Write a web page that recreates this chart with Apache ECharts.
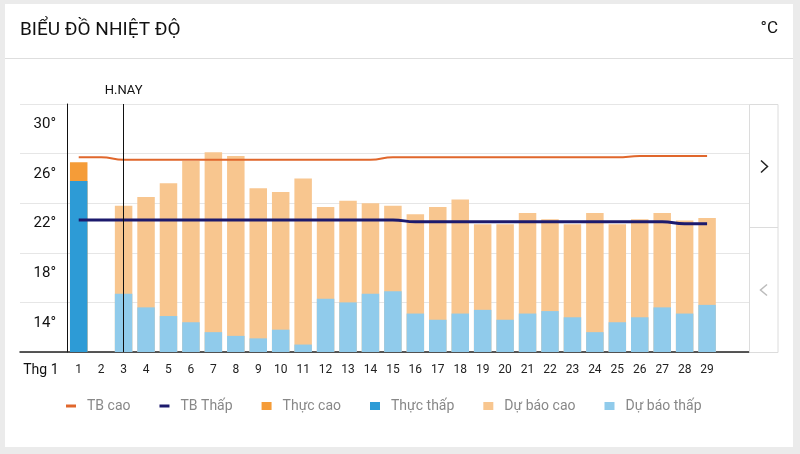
<!DOCTYPE html>
<html>
<head>
<meta charset="utf-8">
<script src="https://cdn.jsdelivr.net/npm/echarts@6/dist/echarts.min.js"></script>
<style>
  html, body { margin: 0; padding: 0; background: #ebebeb; }
  #card { position: absolute; left: 5px; top: 4px; width: 788px; height: 443px; background: #fff; }
  #chart { position: absolute; left: 0; top: 0; width: 800px; height: 454px; }
</style>
</head>
<body>
<div id="card"></div>
<div id="chart"></div>
<script>
// ---- data ----
const days = ['1','2','3','4','5','6','7','8','9','10','11','12','13','14','15','16','17','18','19','20','21','22','23','24','25','26','27','28','29'];
const tbCao = [25.7,25.7,25.5,25.5,25.5,25.5,25.5,25.5,25.5,25.5,25.5,25.5,25.5,25.5,25.7,25.7,25.7,25.7,25.7,25.7,25.7,25.7,25.7,25.7,25.7,25.8,25.8,25.8,25.8];
const tbThap = [20.65,20.65,20.65,20.65,20.65,20.65,20.65,20.65,20.65,20.65,20.65,20.65,20.65,20.65,20.65,20.5,20.5,20.5,20.5,20.5,20.5,20.5,20.5,20.5,20.5,20.5,20.5,20.35,20.35];
const thucCao = [25.3,'-','-','-','-','-','-','-','-','-','-','-','-','-','-','-','-','-','-','-','-','-','-','-','-','-','-','-','-'];
const thucThap = [23.8,'-','-','-','-','-','-','-','-','-','-','-','-','-','-','-','-','-','-','-','-','-','-','-','-','-','-','-','-'];
const duBaoCao = ['-','-',21.8,22.5,23.6,25.4,26.1,25.8,23.2,22.9,24.0,21.7,22.2,22.0,21.8,21.1,21.7,22.3,20.3,20.3,21.2,20.7,20.3,21.2,20.3,20.7,21.2,20.6,20.8];
const duBaoThap = ['-','-',14.7,13.6,12.9,12.4,11.6,11.3,11.1,11.8,10.6,14.3,14.0,14.7,14.9,13.1,12.6,13.1,13.4,12.6,13.1,13.3,12.8,11.6,12.4,12.8,13.6,13.1,13.8];
const todayLabel = '3';
const yMin = 10, yMax = 30, yStep = 4;

const FONT = 'Roboto, "Noto Sans", sans-serif';
const chart = echarts.init(document.getElementById('chart'), null, { renderer: 'canvas' });
const lineIcon = 'path://M0,0 L10,0 L10,3 L0,3 Z';

const barCommon = { type: 'bar', xAxisIndex: 0, yAxisIndex: 0, barWidth: 17.5, barGap: '-100%', z: 2 };

chart.setOption({
  animation: false,
  textStyle: { fontFamily: FONT },
  title: [
    { text: 'BIỂU ĐỒ NHIỆT ĐỘ', left: 20, top: 21, padding: 0, textStyle: { fontFamily: FONT, fontSize: 19, fontWeight: 'normal', color: '#111' } },
    { text: '°C', right: 22, top: 20, padding: 0, textStyle: { fontFamily: FONT, fontSize: 17, fontWeight: 'normal', color: '#111' } }
  ],
  legend: {
    left: 66, top: 399, padding: 0,
    itemWidth: 10, itemHeight: 8, itemGap: 29,
    textStyle: { color: '#888', fontSize: 14, fontFamily: FONT, padding: [0, 0, 0, 6] },
    data: [
      { name: 'TB cao', icon: lineIcon },
      { name: 'TB Thấp', icon: lineIcon },
      { name: 'Thực cao', icon: 'rect' },
      { name: 'Thực thấp', icon: 'rect' },
      { name: 'Dự báo cao', icon: 'rect' },
      { name: 'Dự báo thấp', icon: 'rect' }
    ]
  },
  grid: [
    { left: 67.5, right: 81.7, top: 104, bottom: 102 },
    { left: 20, right: 50, top: 104, bottom: 102 }
  ],
  xAxis: [
    {
      type: 'category', gridIndex: 0, data: days,
      axisLine: { show: false }, axisTick: { show: false },
      axisLabel: { interval: 0, fontSize: 12, color: '#222', margin: 12, fontFamily: FONT },
      name: 'Thg 1', nameLocation: 'start', nameGap: 9,
      nameTextStyle: { fontSize: 14, color: '#111', align: 'right', verticalAlign: 'top', padding: [11, 0, 0, 0], fontFamily: FONT }
    },
    {
      type: 'value', gridIndex: 1, min: 0, max: 1,
      axisLine: { show: true, lineStyle: { color: '#222', width: 1.5 } },
      axisTick: { show: false }, axisLabel: { show: false }, splitLine: { show: false }
    }
  ],
  yAxis: [
    {
      type: 'value', gridIndex: 0, min: yMin, max: yMax, interval: yStep,
      axisLine: { show: true, lineStyle: { color: '#111', width: 1 } },
      axisTick: { show: false }, axisLabel: { show: false }, splitLine: { show: false }
    },
    {
      type: 'value', gridIndex: 1, min: yMin, max: yMax, interval: yStep,
      axisLine: { show: false }, axisTick: { show: false },
      splitLine: { show: true, lineStyle: { color: '#e6e6e6', width: 1 } },
      axisLabel: {
        inside: true, margin: 36, align: 'right', verticalAlign: 'top', padding: [13, 0, 0, 0],
        fontSize: 15, color: '#111', fontFamily: FONT,
        formatter: v => (v === yMin ? '' : v + '°')
      }
    }
  ],
  series: [
    { name: 'TB cao', type: 'line', xAxisIndex: 0, yAxisIndex: 0, data: tbCao, color: '#e0672c',
      showSymbol: false, smooth: 0.5, smoothMonotone: 'x', lineStyle: { width: 2 }, z: 4 },
    { name: 'TB Thấp', type: 'line', xAxisIndex: 0, yAxisIndex: 0, data: tbThap, color: '#1c1a6d',
      showSymbol: false, smooth: 0.5, smoothMonotone: 'x', lineStyle: { width: 3 }, z: 4 },
    Object.assign({ name: 'Thực cao', data: thucCao, color: '#f59c38' }, barCommon),
    Object.assign({ name: 'Thực thấp', data: thucThap, color: '#2d9bd6' }, barCommon),
    Object.assign({ name: 'Dự báo cao', data: duBaoCao, color: '#f8c68f',
      markLine: {
        silent: true, symbol: 'none', z: 5,
        lineStyle: { color: '#111', width: 1, type: 'solid' },
        label: { show: true, position: 'end', formatter: 'H.NAY', color: '#111', fontSize: 13, distance: 7, fontFamily: FONT },
        data: [{ xAxis: todayLabel }]
      }
    }, barCommon),
    Object.assign({ name: 'Dự báo thấp', data: duBaoThap, color: '#90cbeb' }, barCommon)
  ],
  graphic: [
    { type: 'line', shape: { x1: 5, y1: 58.5, x2: 793, y2: 58.5 }, style: { stroke: '#dedede', lineWidth: 1 }, silent: true },
    { type: 'rect', shape: { x: 749.5, y: 104.5, width: 28.5, height: 248 }, style: { fill: '#fff', stroke: '#dcdcdc', lineWidth: 1 }, silent: true, z: 10 },
    { type: 'line', shape: { x1: 749.5, y1: 227.5, x2: 778, y2: 227.5 }, style: { stroke: '#dcdcdc', lineWidth: 1 }, silent: true, z: 11 },
    { type: 'polyline', shape: { points: [[761, 160.5], [767.5, 166.5], [761, 172.5]] }, style: { stroke: '#222', lineWidth: 1.5, fill: null }, silent: true, z: 11 },
    { type: 'polyline', shape: { points: [[767, 284.5], [760.5, 290], [767, 295.5]] }, style: { stroke: '#bbb', lineWidth: 1.5, fill: null }, silent: true, z: 11 }
  ]
});
</script>
</body>
</html>
